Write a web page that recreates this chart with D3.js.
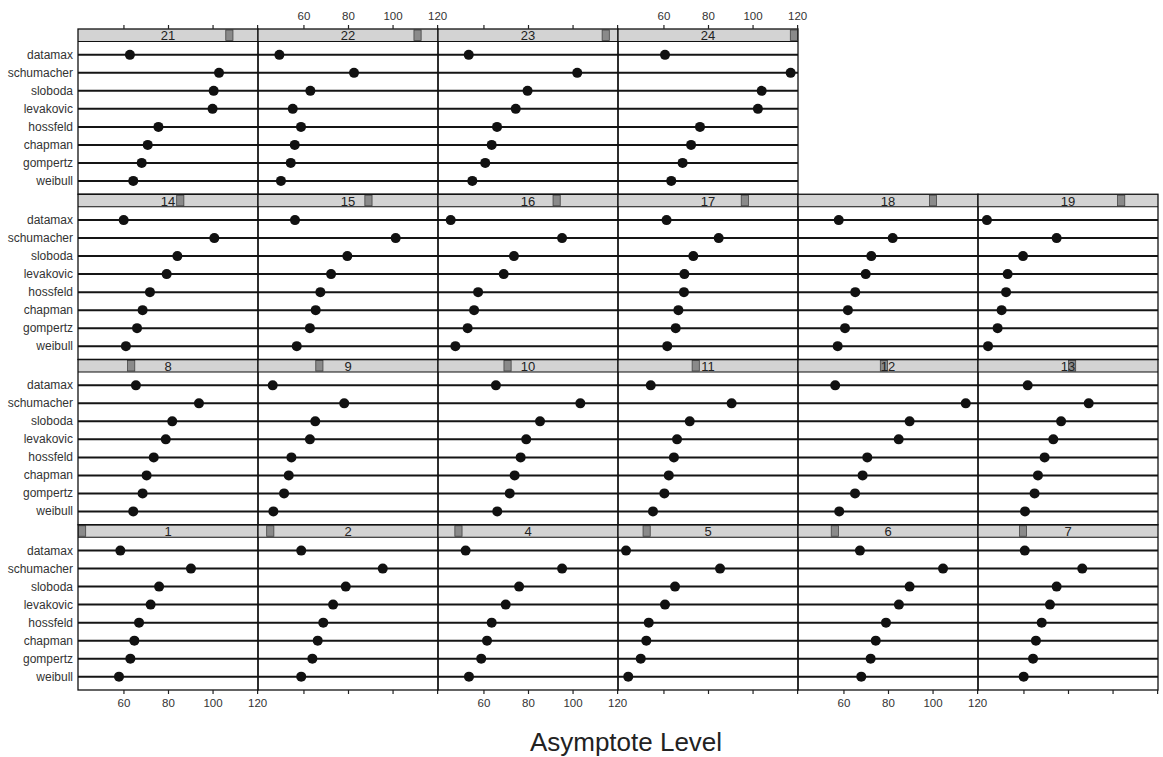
<!DOCTYPE html>
<html>
<head>
<meta charset="utf-8">
<script src="https://cdn.jsdelivr.net/npm/d3@7"></script>
<style>
  body { margin: 0; background: #fff; }
  svg text { font-family: "Liberation Sans", Arial, sans-serif; }
</style>
</head>
<body>
<div id="chart"></div>
<script>
// plots in panel order (bottom-left first, left to right, then upward)
const plots = [1, 2, 4, 5, 6, 7, 8, 9, 10, 11, 12, 13, 14, 15, 16, 17, 18, 19, 21, 22, 23, 24];
const methods = ['datamax', 'schumacher', 'sloboda', 'levakovic', 'hossfeld', 'chapman', 'gompertz', 'weibull'];
const tickValues = [60, 80, 100, 120];

// asymptote estimates per method, one value per plot (same order as plots)
const datamax    = [58.6, 59, 52, 43.2, 67.4, 60.6, 65.6, 46.2, 65.6, 54.3, 56.3, 61.9, 60.1, 56.2, 45.3, 61.4, 57.9, 43.6, 62.9, 49.2, 53.4, 60.7];
const schumacher = [90.3, 95.6, 95.3, 85.4, 104.7, 86.4, 93.9, 78.3, 103.5, 90.6, 114.9, 89.3, 100.8, 101.4, 95.3, 84.8, 82.1, 74.9, 102.9, 82.7, 102.1, 117.1];
const sloboda    = [76, 79, 76, 65.2, 89.7, 74.9, 81.9, 65.3, 85.4, 71.8, 89.7, 76.9, 84.2, 79.7, 73.7, 73.4, 72.5, 59.8, 100.5, 63.1, 79.8, 104.1];
const levakovic  = [72.2, 73.3, 70, 60.7, 84.9, 71.9, 79, 62.9, 79.2, 66.1, 84.8, 73.4, 79.4, 72.4, 69.1, 69.4, 70, 52.9, 100, 55.2, 74.5, 102.4];
const hossfeld   = [67, 68.9, 63.7, 53.4, 79.1, 68.2, 73.6, 54.6, 76.7, 64.7, 70.7, 69.5, 71.9, 67.6, 57.6, 69.2, 65.3, 52.2, 75.7, 58.9, 66.1, 76.4];
const chapman    = [64.9, 66.4, 61.6, 52.3, 74.5, 65.6, 70.4, 53.4, 74, 62.4, 68.6, 66.5, 68.6, 65.5, 55.8, 66.7, 62, 50.2, 70.9, 56.1, 63.7, 72.4];
const gompertz   = [63.1, 64, 59, 49.8, 72.2, 64.3, 68.6, 51.3, 71.8, 60.4, 65.2, 65, 66.1, 62.9, 52.9, 65.5, 60.7, 48.4, 68.2, 54.3, 60.8, 68.6];
const weibull    = [58, 59, 53.5, 44.2, 68, 60.1, 64.4, 46.5, 66.2, 55.3, 58.1, 60.7, 61.1, 57, 47.4, 61.7, 57.4, 44.1, 64.4, 49.9, 55, 63.5];

const series = { datamax, schumacher, sloboda, levakovic, hossfeld, chapman, gompertz, weibull };

const W = 1163, H = 757;
const marginLeft = 78, marginTop = 29;
const panelW = 180, rowH = 165.25, stripH = 12.5;
const nCols = 6, nRows = 4;

const svg = d3.select('#chart').append('svg')
  .attr('width', W)
  .attr('height', H);

const x = d3.scaleLinear().domain([39.6, 120.4]).range([0, panelW]);

plots.forEach((p, i) => {
  const col = i % nCols;
  const row = nRows - 1 - Math.floor(i / nCols); // row from top
  const px = marginLeft + col * panelW;
  const py = marginTop + row * rowH;

  const g = svg.append('g').attr('transform', `translate(${px},${py})`);

  const y = d3.scalePoint()
    .domain(methods)
    .range([stripH, rowH])
    .padding(0.743);

  // strip
  g.append('rect')
    .attr('x', 0).attr('y', 0)
    .attr('width', panelW).attr('height', stripH)
    .attr('fill', '#d3d3d3');
  g.append('rect')
    .attr('x', i / plots.length * panelW + 0.5)
    .attr('y', 1)
    .attr('width', panelW / plots.length - 1)
    .attr('height', stripH - 2)
    .attr('fill', '#8a8a8a')
    .attr('stroke', '#444')
    .attr('stroke-width', 0.8);
  g.append('text')
    .attr('x', panelW / 2)
    .attr('y', stripH / 2 + 0.5)
    .attr('dominant-baseline', 'central')
    .attr('text-anchor', 'middle')
    .attr('font-size', 13)
    .attr('fill', '#222')
    .text(p);
  g.append('line')
    .attr('x1', 0).attr('x2', panelW)
    .attr('y1', stripH).attr('y2', stripH)
    .attr('stroke', '#111').attr('stroke-width', 1.2);

  // reference lines and dots
  g.selectAll('.ref')
    .data(methods)
    .enter()
    .append('line')
    .attr('class', 'ref')
    .attr('x1', 0).attr('x2', panelW)
    .attr('y1', d => y(d)).attr('y2', d => y(d))
    .attr('stroke', '#151515')
    .attr('stroke-width', 2);

  g.selectAll('.dot')
    .data(methods)
    .enter()
    .append('circle')
    .attr('class', 'dot')
    .attr('cx', d => x(series[d][i]))
    .attr('cy', d => y(d))
    .attr('r', 5)
    .attr('fill', '#111');

  // panel border
  g.append('rect')
    .attr('x', 0).attr('y', 0)
    .attr('width', panelW).attr('height', rowH)
    .attr('fill', 'none')
    .attr('stroke', '#111')
    .attr('stroke-width', 1.3);

  // method labels on the left column
  if (col === 0) {
    g.selectAll('.lab')
      .data(methods)
      .enter()
      .append('text')
      .attr('class', 'lab')
      .attr('x', -5)
      .attr('y', d => y(d))
      .attr('dominant-baseline', 'central')
      .attr('text-anchor', 'end')
      .attr('font-size', 12)
      .attr('fill', '#333')
      .text(d => d);
  }

  // bottom axis on the bottom row
  if (row === nRows - 1) {
    const ax = g.append('g')
      .attr('transform', `translate(0,${rowH})`)
      .call(d3.axisBottom(x).tickValues(tickValues).tickSize(4).tickPadding(5)
        .tickFormat(col % 2 === 0 ? d3.format('d') : () => ''));
    ax.select('.domain').remove();
    ax.selectAll('line').attr('stroke', '#222').attr('stroke-width', 1.2);
    ax.selectAll('text').attr('font-size', 11.5).attr('fill', '#333')
      .style('font-family', '"Liberation Sans", Arial, sans-serif');
  }

  // top axis above the topmost panel in each column
  if (row === 0) {
    const ax = g.append('g')
      .call(d3.axisTop(x).tickValues(tickValues).tickSize(4).tickPadding(5)
        .tickFormat(col % 2 === 1 ? d3.format('d') : () => ''));
    ax.select('.domain').remove();
    ax.selectAll('line').attr('stroke', '#222').attr('stroke-width', 1.2);
    ax.selectAll('text').attr('font-size', 11.5).attr('fill', '#333')
      .style('font-family', '"Liberation Sans", Arial, sans-serif');
  }
});

// axis title
svg.append('text')
  .attr('x', 626)
  .attr('y', 751)
  .attr('text-anchor', 'middle')
  .attr('font-size', 26)
  .attr('fill', '#222')
  .text('Asymptote Level');
</script>
</body>
</html>
